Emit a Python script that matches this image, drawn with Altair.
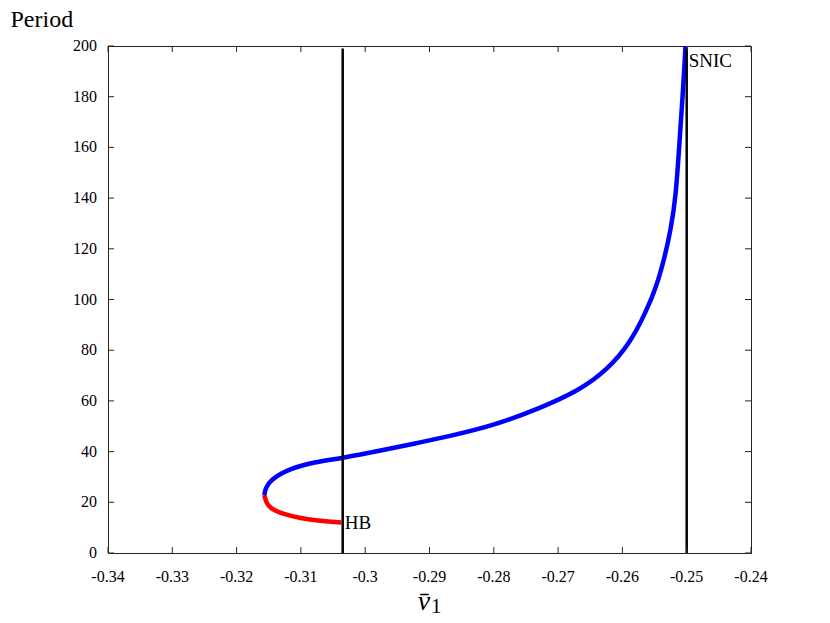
import altair as alt
import pandas as pd

# ---- data ----
red_v = [-0.3037, -0.3070, -0.3101, -0.3127, -0.3148, -0.3154, -0.3157]
red_T = [12.0, 12.7, 13.7, 15.3, 17.6, 20.0, 22.9]

blue_v = [-0.3157, -0.3155, -0.3148, -0.3117, -0.3076, -0.3037, -0.2972, -0.2920,
          -0.2868, -0.2806, -0.2728, -0.2666, -0.2624, -0.2588, -0.2562, -0.2547,
          -0.2534, -0.2525, -0.2517, -0.2511, -0.2506, -0.2502, -0.2501]
blue_T = [22.9, 25.5, 28.8, 33.4, 36.0, 37.4, 40.6, 43.3, 46.2, 49.8, 57.1, 64.3,
          72.2, 82.7, 95.9, 105.1, 116.9, 127.4, 140.0, 162.9, 181.3, 198.4, 205.0]

vlines_v = [-0.3035, -0.25]
labels_text = ["HB", "SNIC"]
labels_v = [-0.3035, -0.25]
labels_T = [12.0, 194.0]

x_ticks = [-0.34, -0.33, -0.32, -0.31, -0.30, -0.29, -0.28, -0.27, -0.26, -0.25, -0.24]
x_tick_labels = ["-0.34", "-0.33", "-0.32", "-0.31", "-0.3", "-0.29", "-0.28",
                 "-0.27", "-0.26", "-0.25", "-0.24"]
y_ticks = [0, 20, 40, 60, 80, 100, 120, 140, 160, 180, 200]
y_tick_labels = ["0", "20", "40", "60", "80", "100", "120", "140", "160", "180", "200"]

W, H = 643, 507
FONT = "Liberation Serif"
AX = "#262626"

curve = pd.DataFrame({
    "v": red_v + blue_v,
    "T": red_T + blue_T,
    "branch": ["unstable"] * len(red_v) + ["stable"] * len(blue_v),
    "ord": list(range(len(red_v))) + list(range(len(blue_v))),
})
vl = pd.DataFrame({"v": vlines_v, "T0": [0] * len(vlines_v), "T1": [199] * len(vlines_v)})
lab = pd.DataFrame({"v": labels_v, "T": labels_T, "text": labels_text})
xt = pd.DataFrame({"v": x_ticks, "lbl": x_tick_labels})
yt = pd.DataFrame({"T": y_ticks, "lbl": y_tick_labels})

xscale = alt.Scale(domain=[-0.34, -0.24], nice=False, zero=False)
yscale = alt.Scale(domain=[0, 200], nice=False)

xaxis = alt.Axis(values=x_ticks, title=None, ticks=False, grid=False, labels=False, domainColor=AX)
yaxis = alt.Axis(
    values=y_ticks, ticks=False, grid=False, labels=False, domainColor=AX,
    title="Period", titleFont=FONT, titleFontSize=24, titleFontWeight="normal",
    titleColor="#000", titleAngle=0, titleAlign="left", titleBaseline="middle",
    titleX=-98, titleY=-27,
)


def X(field):
    return alt.X(field, scale=xscale, axis=xaxis)


def Y(field):
    return alt.Y(field, scale=yscale, axis=yaxis)


lines = alt.Chart(curve).mark_line(strokeWidth=4.5, clip=True, interpolate="basis").encode(
    x=X("v:Q"),
    y=Y("T:Q"),
    color=alt.Color("branch:N", scale=alt.Scale(domain=["unstable", "stable"], range=["#FF0000", "#0000FF"]), legend=None),
    order="ord:Q",
)

vrules = alt.Chart(vl).mark_rule(color="#000", strokeWidth=2.5).encode(
    x=X("v:Q"), y=Y("T0:Q"), y2="T1:Q"
)

texts = alt.Chart(lab).mark_text(font=FONT, fontSize=19, align="left", baseline="middle", dx=2, color="#000").encode(
    x=X("v:Q"), y=Y("T:Q"), text="text:N"
)

tick_b = alt.Chart(xt).mark_rule(color=AX, strokeWidth=1).encode(
    x=X("v:Q"), y=alt.value(H), y2=alt.value(H - 6))
tick_t = alt.Chart(xt).mark_rule(color=AX, strokeWidth=1).encode(
    x=X("v:Q"), y=alt.value(0), y2=alt.value(6))
tick_l = alt.Chart(yt).mark_rule(color=AX, strokeWidth=1).encode(
    y=Y("T:Q"), x=alt.value(0), x2=alt.value(6))
tick_r = alt.Chart(yt).mark_rule(color=AX, strokeWidth=1).encode(
    y=Y("T:Q"), x=alt.value(W), x2=alt.value(W - 6))

xlabels = alt.Chart(xt).mark_text(font=FONT, fontSize=16, align="center", baseline="middle", color="#000").encode(
    x=X("v:Q"), y=alt.value(H + 24), text="lbl:N")
ylabels = alt.Chart(yt).mark_text(font=FONT, fontSize=16, align="right", baseline="middle", color="#000").encode(
    y=Y("T:Q"), x=alt.value(-11), text="lbl:N")

# x-axis title: italic v with bar, upright subscript 1
xt_v = alt.Chart(pd.DataFrame({"t": ["v\u0304"]})).mark_text(
    font=FONT, fontSize=28, fontStyle="italic", align="center", baseline="alphabetic", color="#000"
).encode(x=alt.value(316), y=alt.value(H + 57), text="t:N")
xt_1 = alt.Chart(pd.DataFrame({"t": ["1"]})).mark_text(
    font=FONT, fontSize=21, align="left", baseline="alphabetic", color="#000"
).encode(x=alt.value(323), y=alt.value(H + 60), text="t:N")

chart = alt.layer(lines, vrules, texts, tick_b, tick_t, tick_l, tick_r,
                  xlabels, ylabels, xt_v, xt_1).properties(
    width=W, height=H, autosize="none", background="white",
    padding={"left": 100, "top": 38, "right": 63, "bottom": 70},
).configure_view(stroke=AX, strokeWidth=1)

chart.save("out.html", embed_options={"renderer": "svg", "actions": False})
